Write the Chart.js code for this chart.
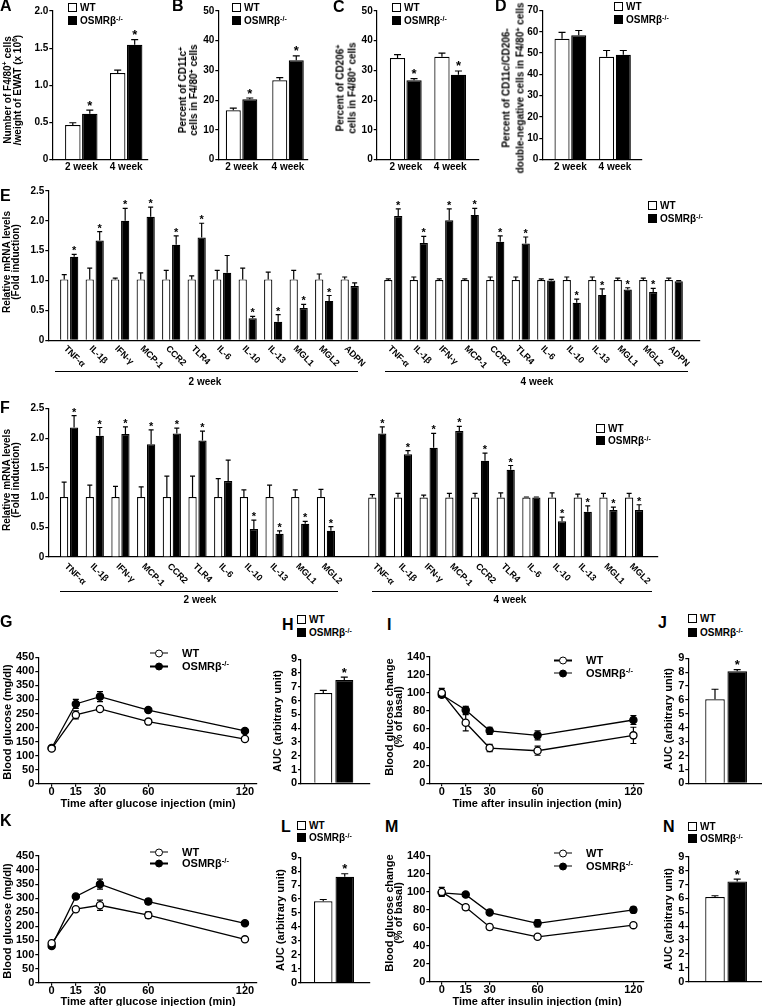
<!DOCTYPE html>
<html>
<head>
<meta charset="utf-8">
<script src="https://cdn.jsdelivr.net/npm/chart.js@4.4.1/dist/chart.umd.min.js"></script>
<style>
  body { margin: 0; background: #fff; }
  #fig { position: relative; width: 762px; height: 1006px; overflow: hidden;
         font-family: "Liberation Sans", Arial, sans-serif; font-weight: bold; color: #000; }
  canvas { position: absolute; }
  .t { position: absolute; white-space: nowrap; font-size: 10px; line-height: 1; }
  .rt { text-align: center; }
  .L { font-size: 16px; }
  sup { font-size: 0.7em; line-height: 0; vertical-align: 0.45em; }
  .sq { display: inline-block; width: 9px; height: 9px; box-sizing: border-box; border: 1.3px solid #000;
        margin-right: 3px; vertical-align: -1px; background: #fff; }
  .sq.k { background: #000; }
  .ln { display: inline-block; position: relative; width: 18px; height: 8px; margin-right: 14px; vertical-align: -1px; }
  .ln::before { content: ""; position: absolute; left: 0; right: 0; top: 3.3px; height: 1.3px; background: #000; }
  .ln i { position: absolute; left: 5px; top: 0; width: 8px; height: 8px; box-sizing: border-box;
          border: 1.3px solid #000; border-radius: 50%; background: #fff; }
  .ln.k i { background: #000; }
  .gl { position: absolute; border-top: 1px solid #000; height: 0; }
</style>
</head>
<body>
<div id="fig"></div>
<script>
// ---- A-D: flow cytometry of EWAT macrophages ----
const weeks = ['2 week', '4 week'];

const aWT = [0.465, 1.165], aWTErr = [0.03, 0.04];
const aKO = [0.615, 1.545], aKOErr = [0.05, 0.07];
const bWT = [16.6, 26.7], bWTErr = [0.7, 0.9];
const bKO = [20.3, 33.4], bKOErr = [0.4, 1.5];
const cWT = [34.2, 34.6], cWTErr = [1.1, 1.2];
const cKO = [26.7, 28.5], cKOErr = [0.5, 1.3];
const dWT = [56.7, 48.3], dWTErr = [3.0, 2.9];
const dKO = [58.4, 49.2], dKOErr = [2.2, 2.0];
const starAC = [1, 1];
const starD = [0, 0];

// ---- E: mRNA, 2 and 4 week ----
const genesE = ['TNF-α', 'IL-1β', 'IFN-γ', 'MCP-1', 'CCR2', 'TLR4', 'IL-6', 'IL-10', 'IL-13', 'MGL1', 'MGL2', 'ADPN'];
const eWT2 = [1.02, 1.02, 1.02, 1.02, 1.02, 1.02, 1.02, 1.02, 1.02, 1.02, 1.02, 1.02];
const eWT2Err = [0.08, 0.19, 0.02, 0.11, 0.15, 0.06, 0.15, 0.19, 0.12, 0.15, 0.09, 0.04];
const eKO2 = [1.40, 1.67, 2.00, 2.07, 1.60, 1.72, 1.13, 0.37, 0.31, 0.54, 0.66, 0.91];
const eKO2Err = [0.04, 0.15, 0.21, 0.16, 0.15, 0.24, 0.29, 0.03, 0.12, 0.06, 0.09, 0.05];
const eStar2 = [1, 1, 1, 1, 1, 1, 0, 1, 1, 1, 1, 0];
const eWT4 = [1.01, 1.01, 1.01, 1.01, 1.01, 1.01, 1.01, 1.01, 1.01, 1.01, 1.01, 1.01];
const eWT4Err = [0.02, 0.05, 0.02, 0.02, 0.05, 0.05, 0.02, 0.05, 0.05, 0.03, 0.03, 0.03];
const eKO4 = [2.08, 1.63, 2.01, 2.10, 1.65, 1.62, 1.00, 0.63, 0.76, 0.85, 0.81, 0.99];
const eKO4Err = [0.12, 0.11, 0.19, 0.11, 0.10, 0.11, 0.02, 0.06, 0.10, 0.03, 0.06, 0.01];
const eStar4 = [1, 1, 1, 1, 1, 1, 0, 1, 1, 1, 1, 0];

// ---- F: mRNA, 2 and 4 week ----
const genesF = ['TNF-α', 'IL-1β', 'IFN-γ', 'MCP-1', 'CCR2', 'TLR4', 'IL-6', 'IL-10', 'IL-13', 'MGL1', 'MGL2'];
const fWT2 = [1.01, 1.01, 1.01, 1.01, 1.01, 1.01, 1.01, 1.01, 1.01, 1.01, 1.01];
const fWT2Err = [0.25, 0.20, 0.18, 0.17, 0.35, 0.35, 0.31, 0.12, 0.20, 0.12, 0.13];
const fKO2 = [2.18, 2.04, 2.07, 1.90, 2.08, 1.96, 1.28, 0.47, 0.39, 0.56, 0.44];
const fKO2Err = [0.20, 0.14, 0.12, 0.24, 0.09, 0.16, 0.35, 0.15, 0.05, 0.04, 0.07];
const fStar2 = [1, 1, 1, 1, 1, 1, 0, 1, 1, 1, 1];
const fWT4 = [1.0, 1.0, 1.0, 1.0, 1.0, 1.0, 1.0, 1.0, 1.0, 1.0, 1.0];
const fWT4Err = [0.05, 0.07, 0.04, 0.07, 0.07, 0.08, 0.01, 0.08, 0.06, 0.07, 0.07];
const fKO4 = [2.08, 1.73, 1.84, 2.12, 1.62, 1.47, 1.00, 0.60, 0.76, 0.79, 0.79];
const fKO4Err = [0.11, 0.06, 0.24, 0.08, 0.13, 0.07, 0.01, 0.07, 0.10, 0.05, 0.09];
const fStar4 = [1, 1, 1, 1, 1, 1, 0, 1, 1, 1, 1];

// ---- G-N: GTT / ITT and AUC ----
const times = [0, 15, 30, 60, 120];
const gWT = [125, 245, 266, 221, 159], gWTErr = [6, 14, 7, 6, 7];
const gKO = [127, 284, 310, 262, 188], gKOErr = [5, 16, 18, 5, 6];
const iWT = [100, 67, 39, 36, 53], iWTErr = [5, 9, 4, 5, 9];
const iKO = [98, 81, 58, 53, 70], iKOErr = [3, 4, 4, 5, 5];
const kWT = [140, 261, 275, 240, 154], kWTErr = [5, 5, 18, 12, 8];
const kKO = [130, 306, 350, 288, 211], kKOErr = [8, 6, 18, 10, 6];
const mWT = [100, 83, 61, 50, 63], mWTErr = [5, 3, 3, 2, 2];
const mKO = [99, 97, 77, 65, 80], mKOErr = [3, 2, 2, 4, 3];

const hWT = [6.55], hWTErr = [0.2], hKO = [7.5], hKOErr = [0.2];
const jWT = [6.05], jWTErr = [0.72], jKO = [8.07], jKOErr = [0.12];
const lWT = [5.85], lWTErr = [0.12], lKO = [7.6], lKOErr = [0.22];
const nWT = [6.1], nWTErr = [0.09], nKO = [7.22], nKOErr = [0.16];
const starAUC = [1];

// ---------------------------------------------------------------
const FONT = '"Liberation Sans", Arial, sans-serif';
Chart.defaults.font.family = FONT;
Chart.defaults.font.weight = 'bold';
Chart.defaults.font.size = 10;
Chart.defaults.color = '#000';
Chart.defaults.animation = false;

const fig = document.getElementById('fig');

// error bars, stars and slanted gene names
const marks = {
  id: 'marks',
  beforeDatasetsDraw(chart, args, o) {
    const { ctx, scales: { y } } = chart;
    ctx.save();
    ctx.strokeStyle = '#000';
    ctx.lineWidth = o.lw || 1.2;
    chart.data.datasets.forEach((ds, di) => {
      if (!ds.err) return;
      chart.getDatasetMeta(di).data.forEach((el, i) => {
        const v = ds.data[i].y;
        const hi = y.getPixelForValue(v + ds.err[i]);
        const lo = o.both ? y.getPixelForValue(v - ds.err[i]) : el.y;
        ctx.beginPath();
        ctx.moveTo(el.x, lo);
        ctx.lineTo(el.x, hi);
        ctx.moveTo(el.x - o.cap, hi);
        ctx.lineTo(el.x + o.cap, hi);
        if (o.both) {
          ctx.moveTo(el.x - o.cap, lo);
          ctx.lineTo(el.x + o.cap, lo);
        }
        ctx.stroke();
      });
    });
    ctx.restore();
  },
  afterDatasetsDraw(chart, args, o) {
    const { ctx, chartArea, scales: { x, y } } = chart;
    ctx.save();
    ctx.fillStyle = '#000';
    ctx.textAlign = 'center';
    ctx.textBaseline = 'alphabetic';
    ctx.font = 'bold ' + (o.starSize || 12) + 'px ' + FONT;
    chart.data.datasets.forEach((ds, di) => {
      if (!ds.stars) return;
      chart.getDatasetMeta(di).data.forEach((el, i) => {
        if (!ds.stars[i]) return;
        ctx.fillText('*', el.x, y.getPixelForValue(ds.data[i].y + ds.err[i]) + (o.starDy || 0));
      });
    });
    if (o.rot) {
      ctx.font = 'bold ' + o.rot.size + 'px ' + FONT;
      ctx.textAlign = 'left';
      ctx.textBaseline = 'middle';
      x.ticks.forEach((t, i) => {
        ctx.save();
        ctx.translate(x.getPixelForValue(t.value) + o.rot.dx, chartArea.bottom + o.rot.dy);
        ctx.rotate(Math.PI / 4);
        ctx.fillText(o.rot.labels[i], 0, 0);
        ctx.restore();
      });
    }
    ctx.restore();
  }
};
Chart.register(marks);

function pts(xs, ys) {
  return ys.map((v, i) => ({ x: xs[i], y: v }));
}

function place(box) {
  const c = document.createElement('canvas');
  c.width = box.w;
  c.height = box.h;
  c.style.left = box.x + 'px';
  c.style.top = box.y + 'px';
  fig.appendChild(c);
  return c;
}

function yAxis(box, plot, min, max, step, fmt, size) {
  return {
    min, max,
    ticks: { stepSize: step, padding: 1, autoSkip: false, font: { size: size || 10 }, callback: fmt || (v => v) },
    grid: { drawOnChartArea: false, tickLength: 3, color: '#000', lineWidth: 1.2 },
    border: { color: '#000', width: 1.2 },
    afterFit: s => { s.width = plot.l - box.x; }
  };
}

function xAxis(box, plot, min, max, pos, labels, o) {
  return {
    type: 'linear', offset: false, min, max,
    afterBuildTicks: s => { s.ticks = pos.map(v => ({ value: v })); },
    ticks: {
      display: !!labels, autoSkip: false, maxRotation: 0, minRotation: 0,
      padding: o.pad || 0, font: { size: o.size || 10, lineHeight: 1 },
      callback: (v, i) => (labels ? labels[i] : '')
    },
    grid: { display: !!o.marks, drawOnChartArea: false, drawTicks: !!o.marks, tickLength: 3, color: '#000', lineWidth: 1.2 },
    border: { color: '#000', width: 1.2 },
    afterFit: s => { s.height = box.y + box.h - plot.b; }
  };
}

function chart(box, plot, type, datasets, scales, marksOpt) {
  new Chart(place(box), {
    type,
    data: { datasets },
    options: {
      responsive: false,
      maintainAspectRatio: false,
      layout: { padding: { left: 0, top: plot.t - box.y, right: box.x + box.w - plot.r, bottom: 0 } },
      scales,
      plugins: { legend: { display: false }, tooltip: { enabled: false }, marks: marksOpt }
    }
  });
}

function barSets(pos, wt, wtErr, ko, koErr, star, cat, bar) {
  const common = { borderColor: '#000', borderWidth: 1.2, categoryPercentage: cat, barPercentage: bar };
  return [
    Object.assign({ label: 'WT', data: pts(pos, wt), err: wtErr, backgroundColor: '#fff' }, common),
    Object.assign({ label: 'OSMRβ-/-', data: pts(pos, ko), err: koErr, stars: star, backgroundColor: '#000' }, common)
  ];
}

function lineSets(wt, wtErr, ko, koErr) {
  const common = { borderColor: '#000', borderWidth: 1.3, pointRadius: 3.6, pointBorderColor: '#000',
                   pointBorderWidth: 1.3, tension: 0, fill: false };
  return [
    Object.assign({ label: 'WT', data: pts(times, wt), err: wtErr, pointBackgroundColor: '#fff' }, common),
    Object.assign({ label: 'OSMRβ-/-', data: pts(times, ko), err: koErr, pointBackgroundColor: '#000' }, common)
  ];
}

const dec = v => (v === 0 ? '0' : v.toFixed(1));

// small two-bar panels A-D
function weekPanel(box, plot, xr, wt, wtErr, ko, koErr, star, yr) {
  chart(box, plot, 'bar', barSets([0, 1], wt, wtErr, ko, koErr, star, xr.cat, xr.bar), {
    x: xAxis(box, plot, xr.min, xr.max, [0, 1], weeks, { pad: 2.5 }),
    y: yAxis(box, plot, 0, yr.max, yr.step, yr.fmt)
  }, { cap: 3.5, starSize: 13, starDy: -0.5 });
}

weekPanel({ x: 0, y: 0, w: 160, h: 182 }, { l: 52.3, t: 11, r: 148, b: 159.5 },
  { min: -0.646, max: 1.486, cat: 0.757, bar: 0.91 }, aWT, aWTErr, aKO, aKOErr, starAC, { max: 2, step: 0.5, fmt: dec });
weekPanel({ x: 165, y: 0, w: 150, h: 182 }, { l: 218.3, t: 11, r: 308, b: 159.5 },
  { min: -0.5, max: 1.43, cat: 0.71, bar: 0.91 }, bWT, bWTErr, bKO, bKOErr, starAC, { max: 50, step: 10 });
weekPanel({ x: 325, y: 0, w: 160, h: 182 }, { l: 376.7, t: 11, r: 478.3, b: 159.5 },
  { min: -0.655, max: 1.633, cat: 0.743, bar: 0.927 }, cWT, cWTErr, cKO, cKOErr, starAC, { max: 50, step: 10 });
weekPanel({ x: 490, y: 0, w: 160, h: 182 }, { l: 542.3, t: 10.5, r: 641.7, b: 159.5 },
  { min: -0.63, max: 1.6, cat: 0.75, bar: 0.9 }, dWT, dWTErr, dKO, dKOErr, starD, { max: 70, step: 10 });

// E: 12 genes per time point, second group shifted right
const ePos = [0, 1, 2, 3, 4, 5, 6, 7, 8, 9, 10, 11, 12.71, 13.71, 14.71, 15.71, 16.71, 17.71, 18.71, 19.71, 20.71, 21.71, 22.71, 23.71];
{
  const box = { x: 0, y: 183, w: 762, h: 200 }, plot = { l: 48.3, t: 191, r: 700, b: 340.3 };
  chart(box, plot, 'bar',
    barSets(ePos, eWT2.concat(eWT4), eWT2Err.concat(eWT4Err), eKO2.concat(eKO4), eKO2Err.concat(eKO4Err),
      eStar2.concat(eStar4), 0.78, 0.83),
    { x: xAxis(box, plot, -0.82, 24.74, ePos, null, {}), y: yAxis(box, plot, 0, 2.5, 0.5, dec) },
    { cap: 2.5, starSize: 11, starDy: 0, rot: { labels: genesE.concat(genesE), size: 9, dx: -4, dy: 7 } });
}

// F: 11 genes per time point
const fPos = [0, 1, 2, 3, 4, 5, 6, 7, 8, 9, 10, 12, 13, 14, 15, 16, 17, 18, 19, 20, 21, 22];
{
  const box = { x: 0, y: 400, w: 762, h: 212 }, plot = { l: 48.3, t: 408.5, r: 658, b: 557 };
  chart(box, plot, 'bar',
    barSets(fPos, fWT2.concat(fWT4), fWT2Err.concat(fWT4Err), fKO2.concat(fKO4), fKO2Err.concat(fKO4Err),
      fStar2.concat(fStar4), 0.775, 0.83),
    { x: xAxis(box, plot, -0.81, 22.93, fPos, null, {}), y: yAxis(box, plot, 0, 2.5, 0.5, dec) },
    { cap: 2.5, starSize: 11, starDy: 0, rot: { labels: genesF.concat(genesF), size: 9, dx: -3, dy: 8 } });
}

// tolerance curves
function curve(box, plot, xr, yr, wt, wtErr, ko, koErr) {
  chart(box, plot, 'line', lineSets(wt, wtErr, ko, koErr), {
    x: xAxis(box, plot, xr[0], xr[1], times, times.map(String), { marks: true, size: 11, pad: 0 }),
    y: yAxis(box, plot, 0, yr[0], yr[1], null, 11)
  }, { cap: 3, both: true, lw: 1.2 });
}

// AUC single-pair panels
function aucPanel(box, plot, xr, wt, wtErr, ko, koErr) {
  chart(box, plot, 'bar', barSets([0], wt, wtErr, ko, koErr, starAUC, xr.cat, xr.bar), {
    x: xAxis(box, plot, xr.min, xr.max, [0], null, {}),
    y: yAxis(box, plot, 0, 9, 1, null, 11)
  }, { cap: 3.5, starSize: 13, starDy: -0.5 });
}

curve({ x: 0, y: 640, w: 268, h: 165 }, { l: 38.3, t: 657.3, r: 256.7, b: 783.7 }, [-8.3, 127.3], [450, 50], gWT, gWTErr, gKO, gKOErr);
aucPanel({ x: 270, y: 640, w: 105, h: 155 }, { l: 301, t: 659.3, r: 370, b: 783.3 },
  { min: -0.82, max: 0.905, cat: 0.609, bar: 0.857 }, hWT, hWTErr, hKO, hKOErr);
curve({ x: 380, y: 640, w: 270, h: 165 }, { l: 429.3, t: 656.7, r: 643.3, b: 783.3 }, [-7.8, 126.2], [140, 20], iWT, iWTErr, iKO, iKOErr);
aucPanel({ x: 655, y: 640, w: 107, h: 155 }, { l: 688.3, t: 658.3, r: 761.7, b: 783.3 },
  { min: -0.945, max: 0.89, cat: 0.605, bar: 0.88 }, jWT, jWTErr, jKO, jKOErr);
curve({ x: 0, y: 835, w: 268, h: 165 }, { l: 38.3, t: 856, r: 256.7, b: 982.7 }, [-8.3, 127.3], [450, 50], kWT, kWTErr, kKO, kKOErr);
aucPanel({ x: 270, y: 835, w: 105, h: 160 }, { l: 301, t: 857.3, r: 370, b: 982.7 },
  { min: -0.825, max: 0.9, cat: 0.623, bar: 0.86 }, lWT, lWTErr, lKO, lKOErr);
curve({ x: 380, y: 835, w: 270, h: 165 }, { l: 429.3, t: 856, r: 643.3, b: 981.7 }, [-7.8, 126.2], [140, 20], mWT, mWTErr, mKO, mKOErr);
aucPanel({ x: 655, y: 835, w: 107, h: 160 }, { l: 688.3, t: 856.7, r: 761.7, b: 981.7 },
  { min: -0.945, max: 0.89, cat: 0.605, bar: 0.88 }, nWT, nWTErr, nKO, nKOErr);

// ---------------- text overlays ----------------
function put(html, x, y, o) {
  o = o || {};
  const d = document.createElement('div');
  d.className = 't ' + (o.cls || '');
  d.innerHTML = html;
  d.style.left = x + 'px';
  d.style.top = y + 'px';
  if (o.size) d.style.fontSize = o.size + 'px';
  if (o.lh) d.style.lineHeight = o.lh + 'px';
  d.style.transform = o.rot ? 'translate(-50%,-50%) rotate(-90deg)'
    : (o.center ? 'translate(-50%,-50%)' : 'translateY(-50%)');
  fig.appendChild(d);
}

function line(x1, x2, y) {
  const d = document.createElement('div');
  d.className = 'gl';
  d.style.left = x1 + 'px';
  d.style.top = y + 'px';
  d.style.width = (x2 - x1) + 'px';
  fig.appendChild(d);
}

const KO = 'OSMRβ<sup>-/-</sup>';
function boxLegend(x, y1, y2, size) {
  put('<span class="sq"></span>WT', x, y1, { size });
  put('<span class="sq k"></span>' + KO, x, y2, { size });
}
function curveLegend(x, y1, y2) {
  put('<span class="ln"><i></i></span>WT', x, y1, { size: 11 });
  put('<span class="ln k"><i></i></span>' + KO, x, y2, { size: 11 });
}

// panel letters
[['A', 0, 6], ['B', 172, 6], ['C', 333, 7], ['D', 495, 6], ['E', 0, 196], ['F', 0, 408],
 ['G', 0, 622], ['H', 282, 625], ['I', 387, 625], ['J', 658, 623],
 ['K', 0, 821], ['L', 281, 827], ['M', 385, 827], ['N', 663, 827]]
  .forEach(([s, x, y]) => put(s, x, y, { cls: 'L' }));

// legends
boxLegend(68, 7.5, 20.5, 10);
boxLegend(232, 7.5, 20.5, 10);
boxLegend(392, 7.5, 20.5, 10);
boxLegend(614, 7, 20, 10);
boxLegend(648, 206, 218.5, 10);
boxLegend(596, 428.5, 441, 10);
boxLegend(297, 620, 633, 10);
boxLegend(688, 619, 633, 10);
boxLegend(297, 826, 838, 10);
boxLegend(688, 827, 839, 10);
curveLegend(150, 652.7, 666);
curveLegend(554, 660, 672.5);
curveLegend(150, 851.7, 863);
curveLegend(554, 852.7, 865.7);

// y-axis titles
put('Number of F4/80<sup>+</sup> cells<br>/weight of EWAT (x 10<sup>6</sup>)', 11.5, 90, { rot: true, cls: 'rt', lh: 9.5 });
put('Percent of CD11c<sup>+</sup><br>cells in F4/80<sup>+</sup> cells', 188, 90, { rot: true, cls: 'rt', lh: 11 });
put('Percent of CD206<sup>+</sup><br>cells in F4/80<sup>+</sup> cells', 346, 88, { rot: true, cls: 'rt', lh: 11.5 });
put('Percent of CD11c/CD206-<br>double-negative cells in F4/80<sup>+</sup> cells', 512.5, 88, { rot: true, cls: 'rt', lh: 13.5 });
put('Relative mRNA levels<br>(Fold induction)', 11, 262, { rot: true, cls: 'rt', lh: 8.5 });
put('Relative mRNA levels<br>(Fold induction)', 11, 480, { rot: true, cls: 'rt', lh: 8.5 });
put('Blood glucose (mg/dl)', 7, 722, { rot: true, size: 11 });
put('AUC (arbitrary unit)', 277, 721, { rot: true, size: 11 });
put('Blood glucose change<br>(% of basal)', 393, 717, { rot: true, cls: 'rt', lh: 8.5, size: 11 });
put('AUC (arbitrary unit)', 668, 719, { rot: true, size: 11 });
put('Blood glucose (mg/dl)', 7, 921, { rot: true, size: 11 });
put('AUC (arbitrary unit)', 280, 920, { rot: true, size: 11 });
put('Blood glucose change<br>(% of basal)', 393, 913, { rot: true, cls: 'rt', lh: 8.5, size: 11 });
put('AUC (arbitrary unit)', 668, 919, { rot: true, size: 11 });

// x-axis titles
put('Time after glucose injection (min)', 148, 803, { center: true, size: 11 });
put('Time after insulin injection (min)', 537, 803, { center: true, size: 11 });
put('Time after glucose injection (min)', 148, 1001, { center: true, size: 11 });
put('Time after insulin injection (min)', 537, 1001, { center: true, size: 11 });

// time-point groups under E and F
line(55, 358, 371);
line(385, 688, 371);
put('2 week', 205, 382, { center: true });
put('4 week', 537, 382, { center: true });
line(60, 338, 590.5);
line(372, 652, 590.5);
put('2 week', 200, 600, { center: true });
put('4 week', 510, 600, { center: true });
</script>
</body>
</html>
